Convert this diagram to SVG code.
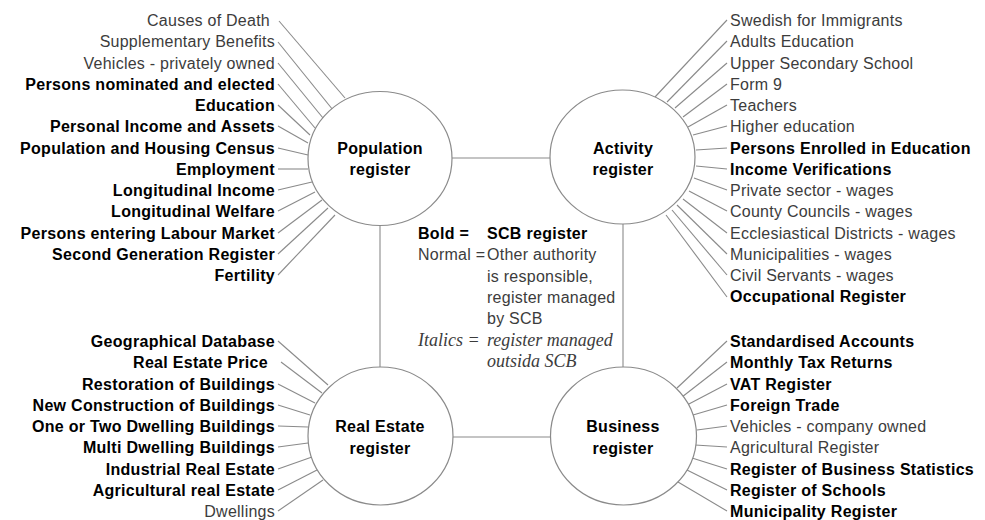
<svg xmlns="http://www.w3.org/2000/svg" width="985" height="520" viewBox="0 0 985 520">
  <style>
    text { font-family: "Liberation Sans", Arial, sans-serif; font-size: 16px; letter-spacing: 0.25px; }
    .n { fill: #3c3c3c; }
    .b { fill: #000; font-weight: bold; letter-spacing: 0.3px; }
    .i { font-family: "Liberation Serif", "Times New Roman", serif; font-style: italic; font-size: 18px; fill: #3c3c3c; letter-spacing: 0; }
    .l { text-anchor: end; }
    .c { text-anchor: middle; fill: #000; font-weight: bold; letter-spacing: 0.3px; }
    .reg { fill: #fff; stroke: #8a8a8a; stroke-width: 1.2; }
    .ln { stroke: #8a8a8a; stroke-width: 1.1; fill: none; }
  </style>
  <rect width="985" height="520" fill="#fff"/>

  <!-- links between the four registers -->
  <g id="connectors">
    <line class="ln" x1="452" y1="158" x2="550" y2="158"/>
    <line class="ln" x1="380" y1="225" x2="380" y2="368"/>
    <line class="ln" x1="623" y1="223" x2="623" y2="368"/>
    <line class="ln" x1="452" y1="437" x2="551" y2="437"/>

    <!-- population register spokes -->
    <line class="ln" x1="279" y1="21" x2="345" y2="98"/>
    <line class="ln" x1="278" y1="42" x2="333" y2="110"/>
    <line class="ln" x1="278" y1="63" x2="323" y2="118"/>
    <line class="ln" x1="278" y1="84" x2="315" y2="128"/>
    <line class="ln" x1="278" y1="105" x2="310" y2="135"/>
    <line class="ln" x1="278" y1="126" x2="308" y2="143"/>
    <line class="ln" x1="278" y1="148" x2="308" y2="155"/>
    <line class="ln" x1="278" y1="169" x2="308" y2="169"/>
    <line class="ln" x1="278" y1="190" x2="312" y2="182"/>
    <line class="ln" x1="278" y1="211" x2="315" y2="192"/>
    <line class="ln" x1="278" y1="233" x2="322" y2="200"/>
    <line class="ln" x1="278" y1="254" x2="328" y2="208"/>
    <line class="ln" x1="278" y1="275" x2="335" y2="215"/>

    <!-- activity register spokes -->
    <line class="ln" x1="727" y1="20" x2="655" y2="97"/>
    <line class="ln" x1="727" y1="41" x2="667" y2="102"/>
    <line class="ln" x1="727" y1="63" x2="675" y2="108"/>
    <line class="ln" x1="727" y1="84" x2="683" y2="117"/>
    <line class="ln" x1="727" y1="105" x2="688" y2="127"/>
    <line class="ln" x1="727" y1="126" x2="693" y2="135"/>
    <line class="ln" x1="727" y1="148" x2="696" y2="150"/>
    <line class="ln" x1="727" y1="169" x2="696" y2="166"/>
    <line class="ln" x1="727" y1="190" x2="694" y2="178"/>
    <line class="ln" x1="727" y1="211" x2="689" y2="191"/>
    <line class="ln" x1="727" y1="233" x2="683" y2="199"/>
    <line class="ln" x1="727" y1="254" x2="677" y2="205"/>
    <line class="ln" x1="727" y1="275" x2="672" y2="210"/>
    <line class="ln" x1="727" y1="297" x2="666" y2="215"/>

    <!-- real estate register spokes -->
    <line class="ln" x1="278" y1="341" x2="328" y2="385"/>
    <line class="ln" x1="281" y1="362" x2="322" y2="393"/>
    <line class="ln" x1="278" y1="384" x2="315" y2="403"/>
    <line class="ln" x1="278" y1="405" x2="310" y2="415"/>
    <line class="ln" x1="278" y1="426" x2="308" y2="427"/>
    <line class="ln" x1="278" y1="447" x2="308" y2="443"/>
    <line class="ln" x1="278" y1="469" x2="312" y2="457"/>
    <line class="ln" x1="278" y1="490" x2="317" y2="470"/>
    <line class="ln" x1="278" y1="511" x2="323" y2="480"/>

    <!-- business register spokes -->
    <line class="ln" x1="727" y1="341" x2="677" y2="388"/>
    <line class="ln" x1="727" y1="362" x2="682" y2="397"/>
    <line class="ln" x1="727" y1="384" x2="687" y2="405"/>
    <line class="ln" x1="727" y1="405" x2="693" y2="415"/>
    <line class="ln" x1="727" y1="426" x2="697" y2="430"/>
    <line class="ln" x1="727" y1="447" x2="695" y2="445"/>
    <line class="ln" x1="727" y1="469" x2="692" y2="458"/>
    <line class="ln" x1="727" y1="490" x2="687" y2="470"/>
    <line class="ln" x1="727" y1="511" x2="678" y2="482"/>
  </g>

  <g id="population-register">
    <ellipse class="reg" cx="380" cy="158.5" rx="72" ry="67"/>
    <text class="c" x="380" y="154">Population</text>
    <text class="c" x="380" y="175">register</text>
  </g>

  <g id="activity-register">
    <ellipse class="reg" cx="622.5" cy="157" rx="72.5" ry="67"/>
    <text class="c" x="623" y="154">Activity</text>
    <text class="c" x="623" y="175">register</text>
  </g>

  <g id="real-estate-register">
    <ellipse class="reg" cx="380.5" cy="436" rx="72.5" ry="69"/>
    <text class="c" x="380" y="432">Real Estate</text>
    <text class="c" x="380" y="454">register</text>
  </g>

  <g id="business-register">
    <ellipse class="reg" cx="623.5" cy="436" rx="73" ry="69"/>
    <text class="c" x="623" y="432">Business</text>
    <text class="c" x="623" y="454">register</text>
  </g>

  <g id="population-sources">
    <text class="n l" x="270" y="26">Causes of Death</text>
    <text class="n l" x="275" y="47.25">Supplementary Benefits</text>
    <text class="n l" x="275" y="68.5">Vehicles - privately owned</text>
    <text class="b l" x="275" y="89.75">Persons nominated and elected</text>
    <text class="b l" x="275" y="111">Education</text>
    <text class="b l" x="275" y="132.25">Personal Income and Assets</text>
    <text class="b l" x="275" y="153.5">Population and Housing Census</text>
    <text class="b l" x="275" y="174.75">Employment</text>
    <text class="b l" x="275" y="196">Longitudinal Income</text>
    <text class="b l" x="275" y="217.25">Longitudinal Welfare</text>
    <text class="b l" x="275" y="238.5">Persons entering Labour Market</text>
    <text class="b l" x="275" y="259.75">Second Generation Register</text>
    <text class="b l" x="275" y="281">Fertility</text>
  </g>

  <g id="activity-sources">
    <text class="n" x="730" y="26">Swedish for Immigrants</text>
    <text class="n" x="730" y="47.25">Adults Education</text>
    <text class="n" x="730" y="68.5">Upper Secondary School</text>
    <text class="n" x="730" y="89.75">Form 9</text>
    <text class="n" x="730" y="111">Teachers</text>
    <text class="n" x="730" y="132.25">Higher education</text>
    <text class="b" x="730" y="153.5">Persons Enrolled in Education</text>
    <text class="b" x="730" y="174.75">Income Verifications</text>
    <text class="n" x="730" y="196">Private sector - wages</text>
    <text class="n" x="730" y="217.25">County Councils - wages</text>
    <text class="n" x="730" y="238.5">Ecclesiastical Districts - wages</text>
    <text class="n" x="730" y="259.75">Municipalities - wages</text>
    <text class="n" x="730" y="281">Civil Servants - wages</text>
    <text class="b" x="730" y="302.25">Occupational Register</text>
  </g>

  <g id="real-estate-sources">
    <text class="b l" x="275" y="347">Geographical Database</text>
    <text class="b l" x="268" y="368.25">Real Estate Price</text>
    <text class="b l" x="275" y="389.5">Restoration of Buildings</text>
    <text class="b l" x="275" y="410.75">New Construction of Buildings</text>
    <text class="b l" x="275" y="432">One or Two Dwelling Buildings</text>
    <text class="b l" x="275" y="453.25">Multi Dwelling Buildings</text>
    <text class="b l" x="275" y="474.5">Industrial Real Estate</text>
    <text class="b l" x="275" y="495.75">Agricultural real Estate</text>
    <text class="n l" x="275" y="517">Dwellings</text>
  </g>

  <g id="business-sources">
    <text class="b" x="730" y="347">Standardised Accounts</text>
    <text class="b" x="730" y="368.25">Monthly Tax Returns</text>
    <text class="b" x="730" y="389.5">VAT Register</text>
    <text class="b" x="730" y="410.75">Foreign Trade</text>
    <text class="n" x="730" y="432">Vehicles - company owned</text>
    <text class="n" x="730" y="453.25">Agricultural Register</text>
    <text class="b" x="730" y="474.5">Register of Business Statistics</text>
    <text class="b" x="730" y="495.75">Register of Schools</text>
    <text class="b" x="730" y="517">Municipality Register</text>
  </g>

  <g id="legend">
    <text class="b" x="418" y="239">Bold =</text>
    <text class="b" x="487" y="239">SCB register</text>
    <text class="n" x="418" y="260.25">Normal =</text>
    <text class="n" x="487" y="260.25">Other authority</text>
    <text class="n" x="487" y="281.5">is responsible,</text>
    <text class="n" x="487" y="302.75">register managed</text>
    <text class="n" x="487" y="324">by SCB</text>
    <text class="i" x="418" y="345.5">Italics =</text>
    <text class="i" x="487" y="345.5">register managed</text>
    <text class="i" x="487" y="366.75">outsida SCB</text>
  </g>
</svg>
